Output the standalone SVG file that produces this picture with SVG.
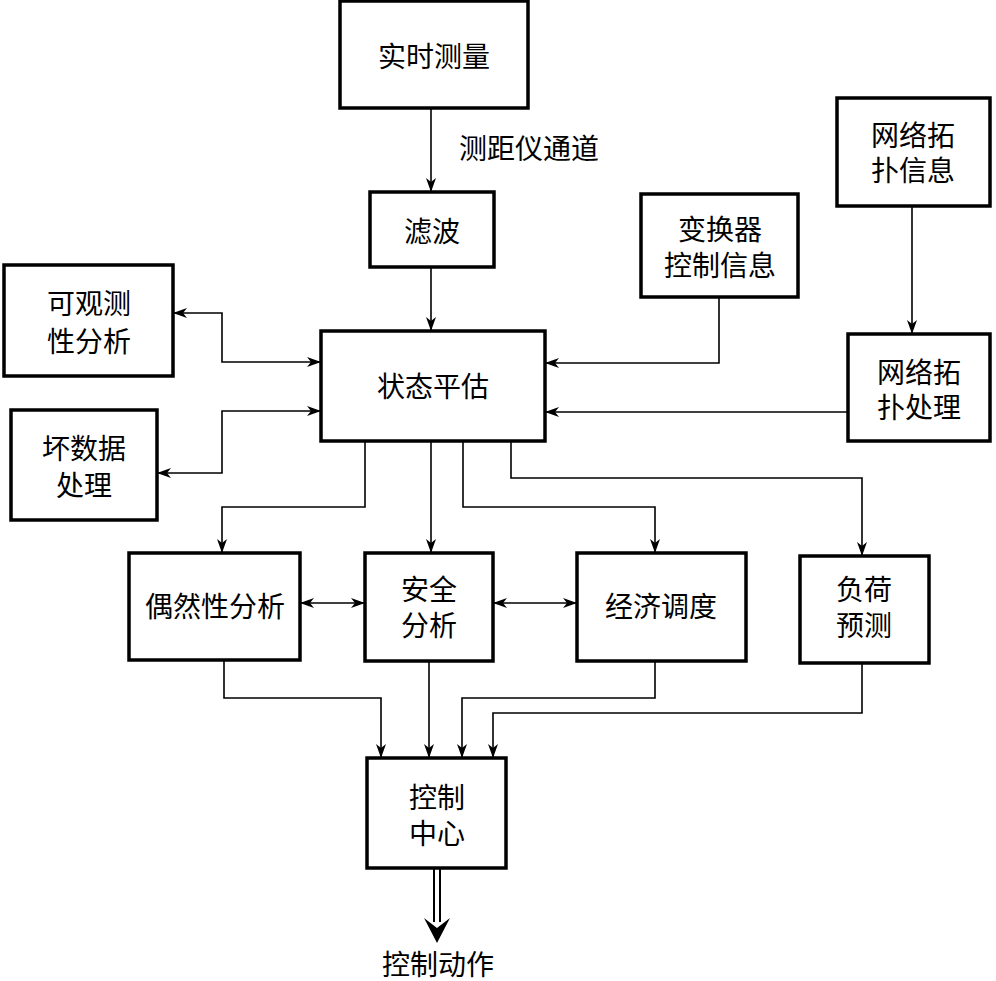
<svg xmlns="http://www.w3.org/2000/svg" width="996" height="981" viewBox="0 0 996 981">
<style>
.box{fill:#fff;stroke:#000;stroke-width:3.5}
.ln{fill:none;stroke:#000;stroke-width:1.6}
text{font-family:"Noto Sans CJK SC","Noto Sans",sans-serif;font-size:28px;fill:#000;text-anchor:middle;dominant-baseline:central}
</style>
<defs>
<marker id="ah" viewBox="0 0 14 10" refX="14" refY="5" markerWidth="14" markerHeight="10" markerUnits="userSpaceOnUse" orient="auto-start-reverse">
<path d="M0,0 L14,5 L0,10 L4,5 Z" fill="#000"/>
</marker>
</defs>
<rect width="996" height="981" fill="#fff"/>
<g id="connectors">
<path class="ln" d="M431,108 V192" marker-end="url(#ah)"/>
<path class="ln" d="M431,267 V331" marker-end="url(#ah)"/>
<path class="ln" d="M173,313 H222 V362 H321" marker-start="url(#ah)" marker-end="url(#ah)"/>
<path class="ln" d="M157,473 H222 V411 H321" marker-start="url(#ah)" marker-end="url(#ah)"/>
<path class="ln" d="M719,297 V363 H545" marker-end="url(#ah)"/>
<path class="ln" d="M848,412 H545" marker-end="url(#ah)"/>
<path class="ln" d="M912,206 V334" marker-end="url(#ah)"/>
<path class="ln" d="M365,441 V507 H222 V553" marker-end="url(#ah)"/>
<path class="ln" d="M431,441 V553" marker-end="url(#ah)"/>
<path class="ln" d="M463,441 V507 H655 V553" marker-end="url(#ah)"/>
<path class="ln" d="M511,441 V478 H862 V556" marker-end="url(#ah)"/>
<path class="ln" d="M300,603 H365" marker-start="url(#ah)" marker-end="url(#ah)"/>
<path class="ln" d="M493,603 H577" marker-start="url(#ah)" marker-end="url(#ah)"/>
<path class="ln" d="M224,660 V698 H381 V758" marker-end="url(#ah)"/>
<path class="ln" d="M429,661 V758" marker-end="url(#ah)"/>
<path class="ln" d="M655,661 V698 H462 V758" marker-end="url(#ah)"/>
<path class="ln" d="M862,663 V713 H493 V758" marker-end="url(#ah)"/>
<path d="M434,868 V922 M440,868 V922" fill="none" stroke="#000" stroke-width="2"/>
<path d="M424,918 L437,943 L450,918 L437,928 Z" fill="#000"/>
</g>
<g id="n-shishi"><rect class="box" x="340" y="1" width="188" height="107"/><text x="434" y="55">实时测量</text></g>
<g id="n-label-channel"><text x="529" y="147">测距仪通道</text></g>
<g id="n-lvbo"><rect class="box" x="370" y="192" width="124" height="75"/><text x="432" y="230">滤波</text></g>
<g id="n-bianhuanqi"><rect class="box" x="641" y="194" width="157" height="103"/><text x="720" y="228">变换器</text><text x="720" y="264">控制信息</text></g>
<g id="n-tuopuxinxi"><rect class="box" x="837" y="98" width="153" height="108"/><text x="913" y="134">网络拓</text><text x="913" y="169">扑信息</text></g>
<g id="n-keguance"><rect class="box" x="4" y="265" width="169" height="111"/><text x="89" y="302">可观测</text><text x="89" y="340">性分析</text></g>
<g id="n-zhuangtai"><rect class="box" x="321" y="331" width="224" height="110"/><text x="433" y="385">状态平估</text></g>
<g id="n-tuopuchuli"><rect class="box" x="848" y="334" width="142" height="107"/><text x="919" y="371">网络拓</text><text x="919" y="406">扑处理</text></g>
<g id="n-huaishuju"><rect class="box" x="11" y="410" width="146" height="110"/><text x="84" y="447">坏数据</text><text x="84" y="484">处理</text></g>
<g id="n-ouran"><rect class="box" x="129" y="553" width="171" height="107"/><text x="215" y="605">偶然性分析</text></g>
<g id="n-anquan"><rect class="box" x="365" y="553" width="128" height="108"/><text x="429" y="588">安全</text><text x="429" y="624">分析</text></g>
<g id="n-jingji"><rect class="box" x="577" y="553" width="169" height="108"/><text x="661" y="605">经济调度</text></g>
<g id="n-fuhe"><rect class="box" x="800" y="556" width="129" height="107"/><text x="864" y="588">负荷</text><text x="864" y="624">预测</text></g>
<g id="n-kongzhi"><rect class="box" x="367" y="758" width="139" height="110"/><text x="437" y="796">控制</text><text x="437" y="832">中心</text></g>
<g id="n-action"><text x="438" y="963">控制动作</text></g>
</svg>
